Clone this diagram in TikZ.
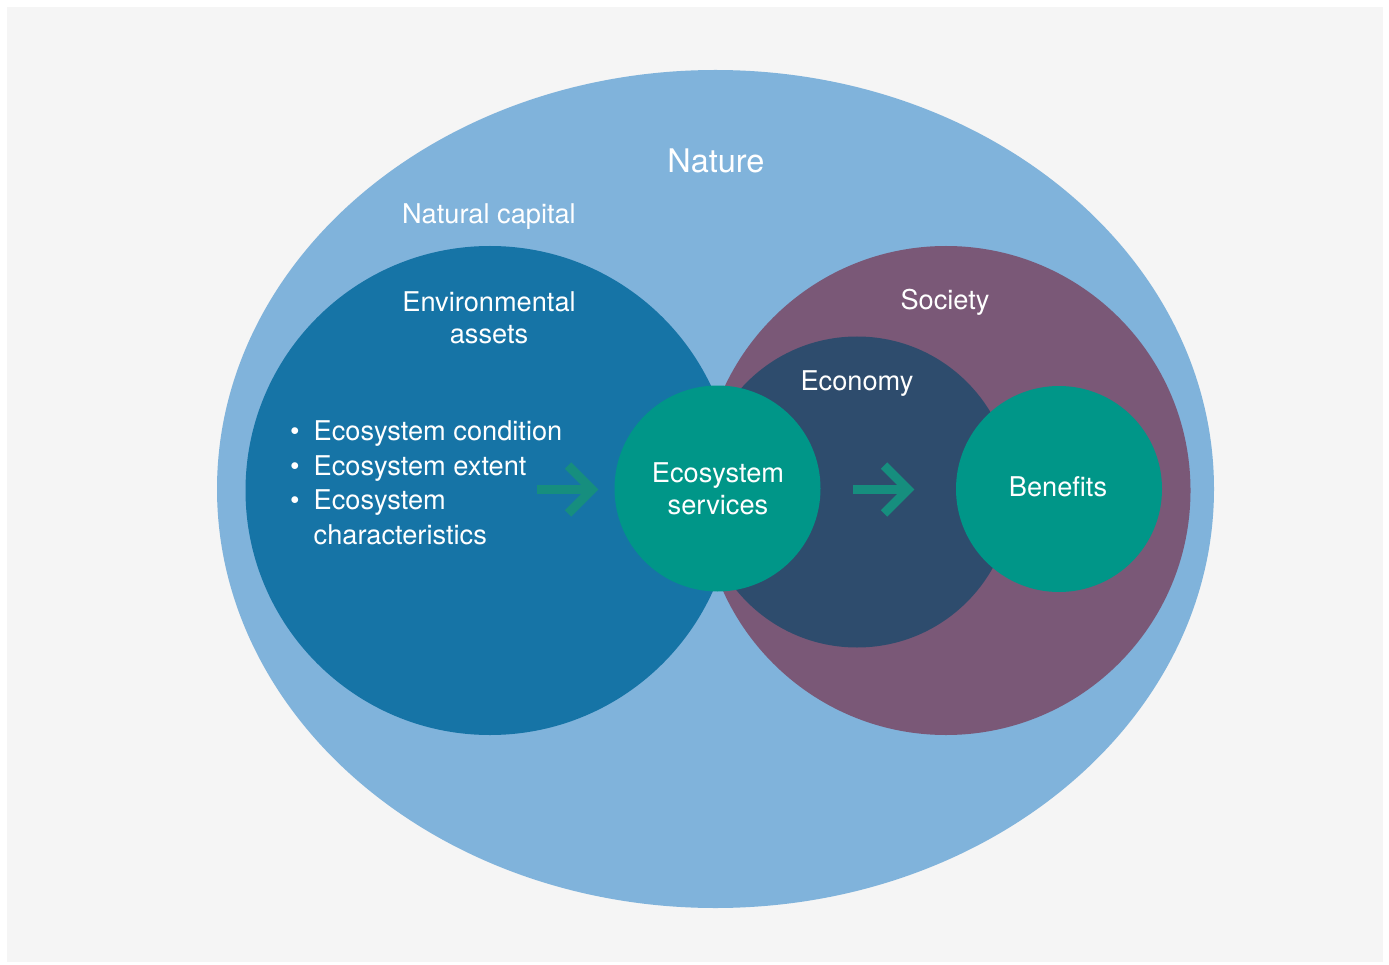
\documentclass[tikz,border=0pt]{standalone}
\usepackage{fontspec}
\setmainfont{TeX Gyre Heros}
\definecolor{bgray}{RGB}{245,245,245}
\definecolor{nature}{RGB}{128,179,219}
\definecolor{envblue}{RGB}{22,116,166}
\definecolor{society}{RGB}{122,88,119}
\definecolor{economy}{RGB}{46,76,109}
\definecolor{teal}{RGB}{0,150,136}
\definecolor{arrowc}{RGB}{22,142,126}
\begin{document}
\begin{tikzpicture}[x=1pt,y=-1pt,
  lbl/.style={text=white,font=\fontsize{27.2}{32}\selectfont,align=center,inner sep=0pt},
  flowarrow/.style={draw=arrowc,line width=9pt,miter limit=10,line join=miter}]
\useasboundingbox (0,0) rectangle (1389,965);
\fill[white] (0,0) rectangle (1389,965);
\fill[bgray] (7,7) rectangle (1383,962);
% shapes
\fill[nature] (715.5,489) ellipse [x radius=498.5, y radius=419];
\node[circle,fill=envblue,minimum size=489pt,inner sep=0pt] (env) at (490,490.5) {};
\node[circle,fill=society,minimum size=489pt,inner sep=0pt] (soc) at (946,490.5) {};
\node[circle,fill=economy,minimum size=311pt,inner sep=0pt] (eco) at (857,492) {};
\node[circle,fill=teal,minimum size=206pt,inner sep=0pt] (es) at (717.5,488.5) {};
\node[circle,fill=teal,minimum size=206pt,inner sep=0pt] (ben) at (1059,489) {};
% labels
\node[lbl,font=\fontsize{32.5}{38}\selectfont] (nature) at (716,161) {Nature};
\node[lbl] (natcap) at (489,217) {Natural capital};
\node[lbl] (envlbl) at (489,318) {Environmental\\assets};
\node[lbl] (soclbl) at (945,302.5) {Society};
\node[lbl] (ecolbl) at (857,383.5) {Economy};
\node[lbl] (eslbl) at (718,489) {Ecosystem\\services};
\node[lbl] (benlbl) at (1058,487) {Benefits};
\node[lbl,align=left,anchor=north west] (list) at (290,420) {%
  \makebox[23.5pt][l]{•}Ecosystem condition\\[3pt]
  \makebox[23.5pt][l]{•}Ecosystem extent\\[2.5pt]
  \makebox[23.5pt][l]{•}Ecosystem\\[3pt]
  \hspace*{23.5pt}characteristics};
% arrows
\coordinate (a1s) at (537,489.5);
\coordinate (a1t) at (592,489.5);
\coordinate (a2s) at (853,489.5);
\coordinate (a2t) at (908,489.5);
\draw[flowarrow] (a1s) -- (a1t);
\draw[flowarrow] ([shift={(-24,-24)}]a1t) -- (a1t) -- ([shift={(-24,24)}]a1t);
\draw[flowarrow] (a2s) -- (a2t);
\draw[flowarrow] ([shift={(-24,-24)}]a2t) -- (a2t) -- ([shift={(-24,24)}]a2t);
\end{tikzpicture}
\end{document}
